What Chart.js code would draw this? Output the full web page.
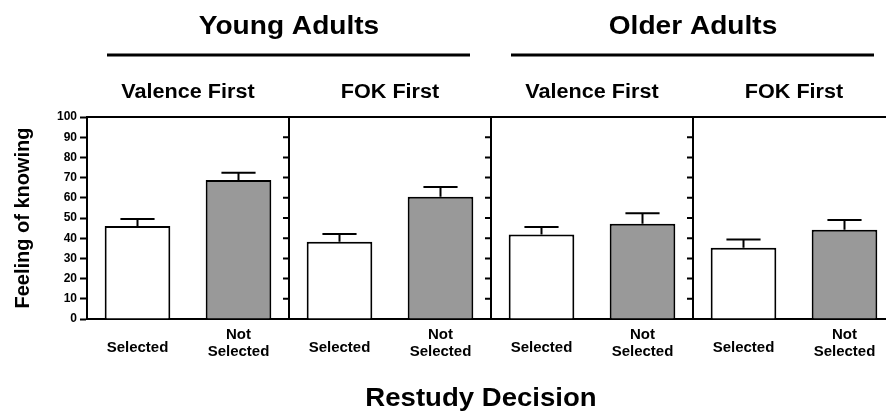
<!DOCTYPE html>
<html>
<head>
<meta charset="utf-8">
<script src="https://cdn.jsdelivr.net/npm/chart.js@4"></script>
<style>
  html, body { margin: 0; padding: 0; background: #fff; overflow: hidden; }
  canvas { display: block; }
</style>
</head>
<body>
<canvas id="chart" width="910" height="417"></canvas>
<script>
// Age groups, each spanning two task-order panels
const groups = ['Young Adults', 'Older Adults'];
const panels = ['Valence First', 'FOK First', 'Valence First', 'FOK First'];
const conditions = ['Selected', 'Not Selected'];
const xTitle = 'Restudy Decision';
const yTitle = 'Feeling of knowing';

// Mean feeling-of-knowing ratings and their error bars, one entry per panel
const selectedMeans = [46.0, 38.2, 41.8, 35.3];
const selectedErrors = [3.5, 3.9, 3.8, 4.0];
const notSelectedMeans = [68.8, 60.5, 47.2, 44.2];
const notSelectedErrors = [3.6, 4.8, 5.1, 4.8];

const yMin = 0, yMax = 100, yStep = 10;

const FONT = '"Liberation Sans", Arial, Helvetica, sans-serif';
Chart.defaults.font.family = FONT;
Chart.defaults.color = '#000';

// Flatten panels into consecutive category slots
const labels = panels.flatMap(() => conditions.map(c => c.includes(' ') ? c.split(' ') : c));
const values = panels.flatMap((_, i) => [selectedMeans[i], notSelectedMeans[i]]);
const errors = panels.flatMap((_, i) => [selectedErrors[i], notSelectedErrors[i]]);
const fills = values.map((_, i) => (i % 2 === 0 ? '#ffffff' : '#999999'));

// Panel edges in pixels, derived from the category scale
function panelEdges(chart) {
  const xs = chart.scales.x;
  const cat = xs.getPixelForValue(1) - xs.getPixelForValue(0);
  const edges = [];
  for (let p = 0; p <= panels.length; p++) {
    edges.push(xs.getPixelForValue(p * 2) - cat / 2);
  }
  return edges;
}

// Slightly widened bold text for the headings
function wideText(ctx, text, x, y, size, stretch) {
  ctx.save();
  ctx.font = 'bold ' + size + 'px ' + FONT;
  ctx.textAlign = 'center';
  ctx.textBaseline = 'middle';
  ctx.translate(x, y);
  ctx.scale(stretch, 1);
  ctx.fillText(text, 0, 0);
  ctx.restore();
}

const errorBars = {
  id: 'errorBars',
  afterDatasetsDraw(chart) {
    const ctx = chart.ctx;
    const ys = chart.scales.y;
    const meta = chart.getDatasetMeta(0);
    ctx.save();
    ctx.strokeStyle = '#000';
    ctx.lineWidth = 2;
    meta.data.forEach((bar, i) => {
      const top = ys.getPixelForValue(values[i] + errors[i]);
      const half = bar.width * 0.26;
      ctx.beginPath();
      ctx.moveTo(bar.x, bar.y);
      ctx.lineTo(bar.x, top);
      ctx.moveTo(bar.x - half, top);
      ctx.lineTo(bar.x + half, top);
      ctx.stroke();
    });
    ctx.restore();
  }
};

const panelFrame = {
  id: 'panelFrame',
  afterDraw(chart) {
    const ctx = chart.ctx;
    const ys = chart.scales.y;
    const area = chart.chartArea;
    const edges = panelEdges(chart);
    ctx.save();
    ctx.strokeStyle = '#000';
    ctx.fillStyle = '#000';
    ctx.lineWidth = 2;

    // top border
    ctx.beginPath();
    ctx.moveTo(area.left - 1, area.top);
    ctx.lineTo(area.right + 1, area.top);
    ctx.stroke();

    // panel dividers with their own tick marks
    for (let p = 1; p < edges.length; p++) {
      const x = edges[p];
      ctx.beginPath();
      ctx.moveTo(x, area.top);
      ctx.lineTo(x, area.bottom);
      for (let v = yMin; v <= yMax; v += yStep) {
        const y = ys.getPixelForValue(v);
        ctx.moveTo(x - 6, y);
        ctx.lineTo(x, y);
      }
      ctx.stroke();
    }

    // panel titles
    panels.forEach((name, p) => {
      wideText(ctx, name, (edges[p] + edges[p + 1]) / 2, 92, 20, 1.08);
    });

    // age-group titles with rules beneath
    const per = panels.length / groups.length;
    groups.forEach((name, g) => {
      const l = edges[g * per], r = edges[(g + 1) * per];
      wideText(ctx, name, (l + r) / 2, 27, 26, 1.08);
      ctx.lineWidth = 3;
      ctx.beginPath();
      ctx.moveTo(l + 20, 55);
      ctx.lineTo(r - 21, 55);
      ctx.stroke();
    });

    // x-axis title, centred under the visible panels
    wideText(ctx, xTitle, (area.left + edges[edges.length - 1] - 20) / 2 - 0, 399, 26, 1.06);
    ctx.restore();
  }
};

new Chart(document.getElementById('chart'), {
  type: 'bar',
  data: {
    labels: labels,
    datasets: [{
      data: values,
      backgroundColor: fills,
      borderColor: '#000',
      borderWidth: 2,
      borderSkipped: 'start',
      barPercentage: 0.65,
      categoryPercentage: 1.0
    }]
  },
  options: {
    responsive: false,
    animation: false,
    events: [],
    layout: { padding: { left: 0, top: 117, right: 15, bottom: 0 } },
    plugins: {
      legend: { display: false },
      tooltip: { enabled: false }
    },
    scales: {
      x: {
        z: 1,
        afterFit: (scale) => { scale.height = 98; },
        grid: { display: false, drawTicks: false },
        border: { display: true, color: '#000', width: 2 },
        ticks: {
          autoSkip: false,
          maxRotation: 0,
          minRotation: 0,
          padding: 16,
          crossAlign: 'center',
          color: '#000',
          font: (ctx) => ({
            size: 15,
            weight: 'bold',
            lineHeight: Array.isArray(labels[ctx.index]) ? '17px' : '8px'
          })
        }
      },
      y: {
        z: 1,
        min: yMin,
        max: yMax,
        afterFit: (scale) => { scale.width = 87; },
        grid: {
          drawOnChartArea: false,
          drawTicks: true,
          tickLength: 7,
          tickWidth: 2,
          color: '#000'
        },
        border: { display: true, color: '#000', width: 2 },
        ticks: {
          stepSize: yStep,
          padding: 3,
          color: '#000',
          font: { size: 12, weight: 'bold' }
        },
        title: {
          display: true,
          text: yTitle,
          color: '#000',
          font: { size: 20, weight: 'bold' },
          padding: { top: 11, bottom: 0 }
        }
      }
    }
  },
  plugins: [errorBars, panelFrame]
});
</script>
</body>
</html>
